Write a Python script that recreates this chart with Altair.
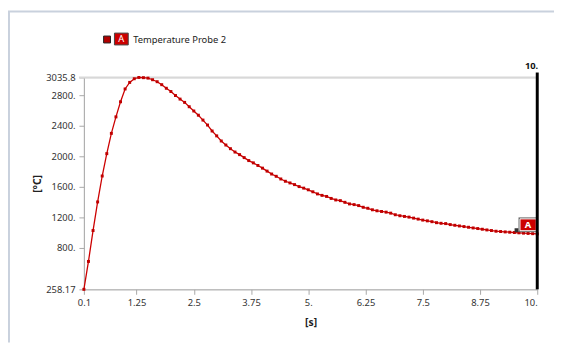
import altair as alt
import pandas as pd

time_s = [round(0.1 * i, 1) for i in range(1, 101)]
temp_c = [
    258.17, 624, 1029, 1404, 1744, 2037, 2303, 2519, 2717, 2885,
    2971, 3019, 3035.8, 3033, 3027, 3006, 2980, 2941, 2894, 2851,
    2799, 2752, 2709, 2652, 2596, 2541, 2477, 2412, 2334, 2270,
    2203, 2150, 2102, 2058, 2024, 1985, 1946, 1916, 1882, 1847,
    1808, 1770, 1740, 1705, 1675, 1653, 1631, 1605, 1585, 1563,
    1537, 1509, 1490, 1476, 1450, 1430, 1421, 1399, 1378, 1369,
    1356, 1334, 1321, 1301, 1288, 1279, 1270, 1257, 1236, 1223,
    1214, 1205, 1192, 1179, 1166, 1156, 1145, 1132, 1124, 1120,
    1107, 1098, 1089, 1081, 1072, 1063, 1055, 1046, 1037, 1029,
    1020, 1016, 1011, 1007, 1003, 999, 995, 991, 988, 985,
]
x_ticks = [0.1, 1.25, 2.5, 3.75, 5, 6.25, 7.5, 8.75, 10]
y_ticks = [258.17, 800, 1200, 1600, 2000, 2400, 2800, 3035.8]
series_name = "Temperature Probe 2"
cursor_time = 10

df = pd.DataFrame({"t": time_s, "T": temp_c})

FONT = "Noto Sans"
RED = "#cc0000"
FS = 9.5

xscale = alt.Scale(domain=[0.1, 10], nice=False, zero=False)
yscale = alt.Scale(domain=[258.17, 3035.8], nice=False, zero=False)

xaxis = alt.Axis(
    values=x_ticks,
    labelExpr="datum.value == 5 ? '5.' : datum.value == 10 ? '10.' : format(datum.value, '')",
    title="[s]", titleFontWeight="bold", titleFontSize=10.5, titleFont=FONT, titleColor="#222",
    titlePadding=11,
    grid=False, domainColor="#a8a8a8", tickColor="#a8a8a8", tickSize=5,
    labelFont=FONT, labelFontSize=FS, labelColor="#333", labelPadding=3,
    labelOverlap=False,
    labelAlign={"condition": {"test": "datum.value >= 10", "value": "right"}, "value": "center"},
)
yaxis = alt.Axis(
    values=y_ticks,
    labelExpr="datum.value == 258.17 ? '258.17' : datum.value == 3035.8 ? '3035.8' : format(datum.value, 'd') + '.'",
    title="[°C]", titleFontWeight="bold", titleFontSize=10.5, titleFont=FONT, titleColor="#222",
    titlePadding=3,
    grid=False, domainColor="#a8a8a8", tickColor="#a8a8a8", tickSize=5,
    labelFont=FONT, labelFontSize=FS, labelColor="#333", labelPadding=4,
    labelOverlap=False,
)

base = alt.Chart(df)

line = base.mark_line(color=RED, strokeWidth=1.3).encode(
    x=alt.X("t:Q", scale=xscale, axis=xaxis),
    y=alt.Y("T:Q", scale=yscale, axis=yaxis),
)
pts = base.mark_square(color="#c00000", size=9, opacity=1).encode(
    x=alt.X("t:Q", scale=xscale, axis=xaxis), y=alt.Y("T:Q", scale=yscale, axis=yaxis)
)

top_grid = alt.Chart().mark_rule(color="#d8d8d8", strokeWidth=2).encode(
    y=alt.Y(datum=3035.8, scale=yscale, axis=yaxis), x=alt.value(-5), x2=alt.value(460)
)

cursor = alt.Chart().mark_rule(color="#000000", strokeWidth=3).encode(
    x=alt.X(datum=cursor_time, scale=xscale, axis=xaxis), y=alt.value(-5), y2=alt.value(215)
)
cursor_lbl = alt.Chart().mark_text(
    text="10.", font=FONT, fontSize=FS, fontWeight="bold", align="right", baseline="middle", color="#111", dx=1
).encode(x=alt.X(datum=cursor_time, scale=xscale, axis=xaxis), y=alt.value(-12))

# frame lines
frame_top = alt.Chart().mark_rule(color="#c9d1dd", strokeWidth=2).encode(
    x=alt.value(-77), x2=alt.value(477), y=alt.value(-67)
)
frame_left = alt.Chart().mark_rule(color="#c9d1dd", strokeWidth=2).encode(
    x=alt.value(-76), y=alt.value(-67), y2=alt.value(269)
)

# legend
leg_sq = alt.Chart().mark_rect(color="#b00000", stroke="#222", strokeWidth=1).encode(
    x=alt.value(20), x2=alt.value(27), y=alt.value(-42), y2=alt.value(-35)
)
leg_box = alt.Chart().mark_rect(color=RED, stroke="#444", strokeWidth=1).encode(
    x=alt.value(31), x2=alt.value(45), y=alt.value(-45), y2=alt.value(-33)
)
leg_a = alt.Chart().mark_text(text="A", font=FONT, fontSize=FS, color="white", align="center", baseline="middle").encode(
    x=alt.value(38), y=alt.value(-39)
)
leg_txt = alt.Chart().mark_text(text=series_name, font=FONT, fontSize=FS, color="#222", align="left", baseline="middle").encode(
    x=alt.value(50), y=alt.value(-38)
)

# end-point label "A"
tag_sq = alt.Chart().mark_rect(color="#333").encode(
    x=alt.value(437), x2=alt.value(441), y=alt.value(153), y2=alt.value(157)
)
tag_box_outer = alt.Chart().mark_rect(color="#666").encode(
    x=alt.value(441), x2=alt.value(460), y=alt.value(142), y2=alt.value(157)
)
tag_box = alt.Chart().mark_rect(color=RED, stroke="white", strokeWidth=1).encode(
    x=alt.value(442.5), x2=alt.value(459), y=alt.value(143.5), y2=alt.value(155.5)
)
tag_a = alt.Chart().mark_text(text="A", font=FONT, fontSize=FS, fontWeight="bold", color="white", align="center", baseline="middle").encode(
    x=alt.value(450.5), y=alt.value(149.5)
)

chart = alt.layer(
    frame_top, frame_left, top_grid, line, pts, tag_sq, tag_box_outer, tag_box, tag_a,
    cursor, cursor_lbl, leg_sq, leg_box, leg_a, leg_txt,
).properties(
    width=460, height=215,
    autosize=alt.AutoSizeParams(type="none"),
    padding={"left": 77, "top": 68, "right": 17, "bottom": 54},
).configure_view(stroke=None).configure(background="white").configure_axis(labelOverlap=False)

chart.save("out.html", embed_options={"renderer": "svg", "actions": False})
